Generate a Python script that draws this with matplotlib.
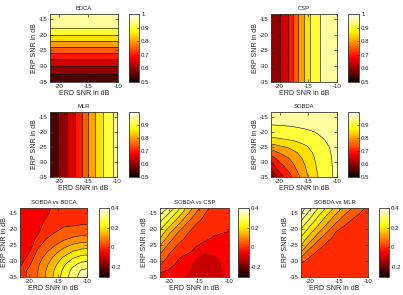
import numpy as np
import matplotlib
matplotlib.use('Agg')
import matplotlib.pyplot as plt
from matplotlib.colors import Normalize
from matplotlib.cm import ScalarMappable

plt.rcParams['font.family'] = ['Liberation Sans', 'DejaVu Sans']
plt.rcParams['axes.unicode_minus'] = False

# grid
erd_snr = np.array([-21.5, -20, -18.5, -17, -15.5, -14, -12.5, -11, -10])
erp_snr = np.array([-35, -33, -31, -29, -27, -25, -23, -21, -19, -17, -15, -13.5])

# BDCA depends on ERP SNR (rows)
bdca_profile = [0.565, 0.59, 0.625, 0.67, 0.72, 0.77, 0.83, 0.875, 0.93, 0.965, 0.978, 0.982]
# CSP and MLR depend on ERD SNR (columns)
csp_profile = [0.615, 0.645, 0.705, 0.785, 0.865, 0.93, 0.958, 0.97, 0.975]
mlr_profile = [0.565, 0.603, 0.655, 0.708, 0.776, 0.842, 0.897, 0.941, 0.965]

# SOBDA: rows = ERP SNR, cols = ERD SNR
sobda = np.array([
    [0.580, 0.673, 0.725, 0.782, 0.835, 0.883, 0.921, 0.946, 0.960],
    [0.638, 0.709, 0.751, 0.799, 0.845, 0.888, 0.923, 0.947, 0.961],
    [0.681, 0.738, 0.772, 0.813, 0.853, 0.893, 0.925, 0.948, 0.961],
    [0.723, 0.767, 0.795, 0.828, 0.863, 0.898, 0.928, 0.949, 0.962],
    [0.771, 0.802, 0.822, 0.848, 0.876, 0.905, 0.932, 0.951, 0.963],
    [0.825, 0.843, 0.856, 0.874, 0.894, 0.916, 0.937, 0.954, 0.965],
    [0.879, 0.888, 0.895, 0.904, 0.916, 0.931, 0.946, 0.959, 0.968],
    [0.915, 0.920, 0.923, 0.929, 0.935, 0.944, 0.955, 0.964, 0.971],
    [0.940, 0.942, 0.944, 0.947, 0.951, 0.956, 0.963, 0.969, 0.974],
    [0.956, 0.957, 0.958, 0.960, 0.962, 0.965, 0.970, 0.974, 0.978],
    [0.966, 0.967, 0.968, 0.969, 0.970, 0.972, 0.975, 0.978, 0.981],
    [0.973, 0.973, 0.974, 0.974, 0.975, 0.977, 0.979, 0.981, 0.983],
])

# difference panels
sobda_vs_bdca = np.array([
    [0.020, 0.064, 0.099, 0.157, 0.213, 0.271, 0.326, 0.370, 0.395],
    [0.015, 0.062, 0.097, 0.152, 0.206, 0.262, 0.314, 0.354, 0.362],
    [-0.010, 0.039, 0.090, 0.139, 0.190, 0.240, 0.285, 0.314, 0.320],
    [-0.030, 0.015, 0.078, 0.116, 0.165, 0.207, 0.245, 0.267, 0.272],
    [-0.030, -0.008, 0.058, 0.093, 0.133, 0.170, 0.199, 0.217, 0.221],
    [-0.030, -0.030, 0.034, 0.072, 0.097, 0.129, 0.155, 0.169, 0.171],
    [-0.030, -0.030, 0.011, 0.049, 0.072, 0.090, 0.106, 0.118, 0.121],
    [-0.030, -0.030, -0.012, 0.046, 0.049, 0.062, 0.073, 0.080, 0.081],
    [-0.030, -0.030, -0.030, 0.030, 0.045, 0.047, 0.049, 0.051, 0.051],
    [-0.030, -0.030, -0.030, 0.006, 0.040, 0.043, 0.044, 0.045, 0.045],
    [-0.030, -0.030, -0.030, -0.017, 0.036, 0.038, 0.039, 0.040, 0.040],
    [-0.030, -0.030, -0.030, -0.030, 0.031, 0.034, 0.035, 0.036, 0.036],
])

sobda_vs_csp = np.array([
    [-0.020, -0.015, -0.030, -0.053, -0.068, -0.080, -0.072, -0.048, -0.030],
    [0.012, -0.005, -0.020, -0.040, -0.065, -0.078, -0.070, -0.046, -0.028],
    [0.056, 0.020, -0.008, -0.030, -0.058, -0.072, -0.065, -0.042, -0.025],
    [0.084, 0.040, 0.005, -0.015, -0.045, -0.062, -0.055, -0.035, -0.020],
    [0.115, 0.058, 0.030, 0.012, -0.012, -0.040, -0.035, -0.025, -0.018],
    [0.155, 0.090, 0.048, 0.025, 0.004, -0.008, -0.015, -0.016, -0.015],
    [0.202, 0.125, 0.072, 0.040, 0.020, 0.006, -0.004, -0.010, -0.012],
    [0.236, 0.164, 0.102, 0.057, 0.030, 0.015, 0.006, 0.002, -0.001],
    [0.280, 0.212, 0.145, 0.086, 0.045, 0.027, 0.014, 0.008, 0.004],
    [0.320, 0.258, 0.190, 0.122, 0.070, 0.038, 0.022, 0.013, 0.010],
    [0.365, 0.304, 0.235, 0.165, 0.100, 0.052, 0.030, 0.020, 0.015],
    [0.380, 0.345, 0.267, 0.190, 0.123, 0.064, 0.035, 0.025, 0.020],
])

sobda_vs_mlr = np.array([
    [0.034, 0.025, 0.017, 0.015, 0.015, 0.015, 0.015, 0.015, 0.015],
    [0.041, 0.032, 0.024, 0.016, 0.015, 0.015, 0.015, 0.015, 0.015],
    [0.048, 0.040, 0.031, 0.023, 0.015, 0.015, 0.015, 0.015, 0.015],
    [0.096, 0.047, 0.038, 0.030, 0.022, 0.015, 0.015, 0.015, 0.015],
    [0.156, 0.078, 0.045, 0.037, 0.029, 0.020, 0.015, 0.015, 0.015],
    [0.202, 0.132, 0.065, 0.044, 0.036, 0.027, 0.019, 0.015, 0.015],
    [0.238, 0.177, 0.113, 0.057, 0.043, 0.035, 0.026, 0.018, 0.015],
    [0.283, 0.216, 0.156, 0.101, 0.049, 0.042, 0.033, 0.025, 0.019],
    [0.320, 0.255, 0.197, 0.138, 0.086, 0.049, 0.040, 0.032, 0.026],
    [0.360, 0.298, 0.231, 0.175, 0.122, 0.077, 0.047, 0.039, 0.033],
    [0.410, 0.333, 0.268, 0.211, 0.157, 0.110, 0.068, 0.046, 0.041],
    [0.425, 0.368, 0.299, 0.239, 0.186, 0.136, 0.094, 0.055, 0.046],
])

nx, ny = len(erd_snr), len(erp_snr)
bdca = np.tile(np.array(bdca_profile)[:, None], (1, nx))
csp = np.tile(np.array(csp_profile)[None, :], (ny, 1))
mlr = np.tile(np.array(mlr_profile)[None, :], (ny, 1))

acc_levels = np.round(np.arange(0.5, 1.0001, 0.05), 3)
diff_levels = np.round(np.arange(-0.3, 0.4501, 0.05), 3)

X, Y = np.meshgrid(erd_snr, erp_snr)

W, H = 403, 295
fig = plt.figure(figsize=(W / 100, H / 100), dpi=100)
FC = '#3a3a30'
TC = '#222222'

def box(x0, y0, x1, y1):
    return [x0 / W, 1 - y1 / H, (x1 - x0) / W, (y1 - y0) / H]

def panel(ax_px, cb_px, Z, levels, vmin, vmax, ticks, tlabels, title):
    ax = fig.add_axes(box(*ax_px))
    cax = fig.add_axes(box(*cb_px))
    cmap = plt.get_cmap('hot')
    norm = Normalize(vmin, vmax)
    cols = [cmap(norm(l)) for l in levels[:-1]]
    ax.contourf(X, Y, Z, levels=levels, colors=cols)
    ax.contour(X, Y, Z, levels=levels, colors='k', linewidths=0.4)
    ax.set_xlim(-21.5, -10)
    ax.set_ylim(-35, -13.5)
    ax.set_xticks([-20, -15, -10])
    ax.set_yticks([-35, -30, -25, -20, -15])
    ax.tick_params(direction='in', length=2, width=0.5, labelsize=4.4, pad=1.5,
                   top=True, right=True, colors=FC, labelcolor=TC)
    for s in ax.spines.values():
        s.set_color(FC)
        s.set_linewidth(0.6)
    ax.set_xlabel('ERD SNR in dB', fontsize=5.0, labelpad=0.5, color=TC)
    ax.set_ylabel('ERP SNR in dB', fontsize=5.0, labelpad=1, color=TC)
    ax.set_title(title, fontsize=4.2, pad=3, color=TC)
    cb = fig.colorbar(ScalarMappable(norm=norm, cmap=cmap), cax=cax, ticks=ticks)
    cb.ax.set_yticklabels(tlabels)
    cb.ax.tick_params(direction='in', length=1.5, width=0.5, labelsize=4.4, pad=1.5,
                      colors=FC, labelcolor=TC)
    cb.outline.set_edgecolor(FC)
    cb.outline.set_linewidth(0.6)
    return ax

t_full = [0.5, 0.6, 0.7, 0.8, 0.9, 1.0]
l_full = ['0.5', '0.6', '0.7', '0.8', '0.9', '1']
t_part = [0.5, 0.6, 0.7, 0.8, 0.9]
l_part = ['0.5', '0.6', '0.7', '0.8', '0.9']
t_diff = [-0.2, 0, 0.2, 0.4]
l_diff = ['-0.2', '0', '0.2', '0.4']

panel((50, 14, 118, 82), (129, 14, 139, 82), bdca, acc_levels, 0.5, 1.0, t_full, l_full, 'BDCA')
panel((271, 14, 337, 82), (348, 14, 359, 82), csp, acc_levels, 0.5, 1.0, t_full, l_full, 'CSP')
panel((50, 112, 117, 177), (129, 112, 139, 177), mlr, acc_levels, 0.5, 0.998, t_part, l_part, 'MLR')
panel((271, 112, 337, 177), (348, 112, 359, 177), sobda, acc_levels, 0.5, 0.998, t_part, l_part, 'SOBDA')
panel((20, 208, 87, 277), (99, 208, 109, 277), sobda_vs_bdca, diff_levels, -0.3, 0.4, t_diff, l_diff, 'SOBDA vs BDCA')
panel((160, 208, 229, 277), (238, 208, 249, 277), sobda_vs_csp, diff_levels, -0.3, 0.4, t_diff, l_diff, 'SOBDA vs CSP')
panel((301, 208, 368, 277), (379, 208, 389, 277), sobda_vs_mlr, diff_levels, -0.3, 0.4, t_diff, l_diff, 'SOBDA vs MLR')

fig.savefig('out.png', dpi=100)
